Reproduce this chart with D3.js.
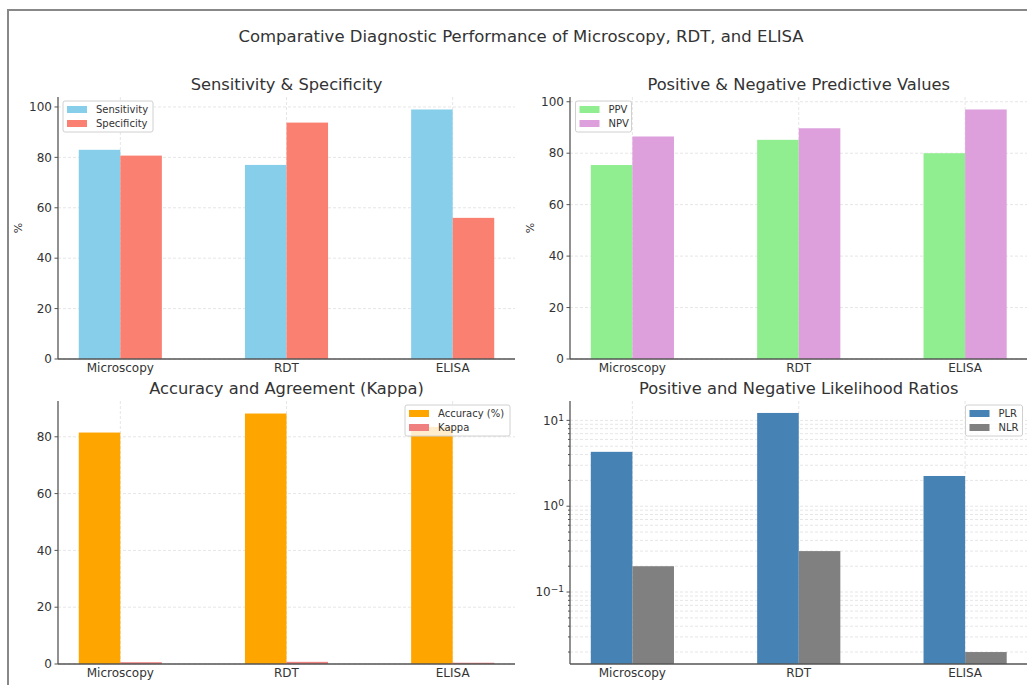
<!DOCTYPE html>
<html>
<head>
<meta charset="utf-8">
<script src="https://cdn.jsdelivr.net/npm/d3@7"></script>
<style>
  body { margin: 0; background: #fff; }
  svg { font-family: "DejaVu Sans", sans-serif; }
</style>
</head>
<body>
<script>
// Data
const tests = ["Microscopy", "RDT", "ELISA"];
const sensitivity = [83, 77, 99];
const specificity = [80.7, 93.8, 56];
const ppv = [75.4, 85.2, 80];
const npv = [86.5, 89.7, 97];
const accuracy = [81.5, 88.2, 83.5];
const kappa = [0.63, 0.76, 0.45];
const plr = [4.3, 12.2, 2.25];
const nlr = [0.2, 0.3, 0.02];
const linearTicks = [0, 20, 40, 60, 80, 100];

let width = 1027;
let height = 685;

let svg = d3
  .select("body")
  .append("svg")
  .attr("width", width)
  .attr("height", height);

// Frame lines on top and left
svg.append("line")
  .attr("x1", 7).attr("x2", width).attr("y1", 10).attr("y2", 10)
  .attr("stroke", "#888").attr("stroke-width", 2);
svg.append("line")
  .attr("x1", 8).attr("x2", 8).attr("y1", 10).attr("y2", height)
  .attr("stroke", "#888").attr("stroke-width", 2);

// Main title
svg.append("text")
  .attr("x", 521)
  .attr("y", 42)
  .attr("text-anchor", "middle")
  .style("font-size", "16.5px")
  .style("fill", "#333")
  .text("Comparative Diagnostic Performance of Microscopy, RDT, and ELISA");

function drawPanel(p) {
  let g = svg.append("g");

  // x scale over category index, bars are 0.25 wide
  let xScale = d3.scaleLinear().domain([-0.375, 2.375]).range([p.left, p.right]);
  let barW = xScale(0.25) - xScale(0);

  let yScale;
  if (p.log) {
    let all = p.series.flatMap((s) => s.values);
    let lo = Math.log10(d3.min(all));
    let hi = Math.log10(d3.max(all));
    let m = (hi - lo) * 0.05;
    yScale = d3.scaleLog()
      .domain([Math.pow(10, lo - m), Math.pow(10, hi + m)])
      .range([p.bottom, p.top]);
  } else {
    let maxV = d3.max(p.series.flatMap((s) => s.values));
    yScale = d3.scaleLinear().domain([0, maxV * 1.05]).range([p.bottom, p.top]);
  }

  // grid
  let grid = g.append("g").attr("stroke", "#e6e6e6").attr("stroke-dasharray", "3,2");
  tests.forEach((t, i) => {
    grid.append("line")
      .attr("x1", xScale(i)).attr("x2", xScale(i))
      .attr("y1", p.top).attr("y2", p.bottom);
  });
  let majors, minors = [];
  if (p.log) {
    let d = yScale.domain();
    majors = [];
    for (let e = -3; e <= 3; e++) {
      for (let k = 1; k <= 9; k++) {
        let v = k * Math.pow(10, e);
        if (v < d[0] || v > d[1]) continue;
        if (k === 1) majors.push(v);
        else minors.push(v);
      }
    }
  } else {
    majors = p.ticks.filter((v) => v <= yScale.domain()[1]);
  }
  majors.concat(minors).forEach((v) => {
    grid.append("line")
      .attr("x1", p.left).attr("x2", p.right)
      .attr("y1", yScale(v)).attr("y2", yScale(v));
  });

  // bars
  p.series.forEach((s, si) => {
    g.selectAll(null)
      .data(s.values)
      .enter()
      .append("rect")
      .attr("x", (d, i) => xScale(i + (si - 1) * 0.25))
      .attr("width", barW)
      .attr("y", (d) => yScale(d))
      .attr("height", (d) => p.bottom - yScale(d))
      .attr("fill", s.color);
  });

  // y ticks
  let ticks = g.append("g").style("font-size", "12px").style("fill", "#333");
  majors.forEach((v) => {
    ticks.append("line")
      .attr("x1", p.left - 3.5).attr("x2", p.left)
      .attr("y1", yScale(v)).attr("y2", yScale(v))
      .attr("stroke", "#555");
    let t = ticks.append("text")
      .attr("x", p.left - 6)
      .attr("y", yScale(v))
      .attr("dy", "0.35em")
      .attr("text-anchor", "end");
    if (p.log) {
      let ex = Math.round(Math.log10(v));
      t.append("tspan").text("10");
      t.append("tspan")
        .attr("dy", "-0.45em")
        .style("font-size", "9px")
        .text(ex < 0 ? "\u2212" + Math.abs(ex) : ex);
    } else {
      t.text(v);
    }
  });
  minors.forEach((v) => {
    ticks.append("line")
      .attr("x1", p.left - 2).attr("x2", p.left)
      .attr("y1", yScale(v)).attr("y2", yScale(v))
      .attr("stroke", "#555");
  });

  // x labels
  tests.forEach((t, i) => {
    ticks.append("text")
      .attr("x", xScale(i))
      .attr("y", p.bottom + 13)
      .attr("text-anchor", "middle")
      .text(t);
  });

  // spines
  g.append("line")
    .attr("x1", p.left).attr("x2", p.left).attr("y1", p.top).attr("y2", p.bottom)
    .attr("stroke", "#555").attr("stroke-width", 1.3);
  g.append("line")
    .attr("x1", p.left).attr("x2", p.right).attr("y1", p.bottom).attr("y2", p.bottom)
    .attr("stroke", "#555").attr("stroke-width", 1.3);

  // title
  g.append("text")
    .attr("x", (p.left + p.right) / 2)
    .attr("y", p.top - 7)
    .attr("text-anchor", "middle")
    .style("font-size", "16.3px")
    .style("fill", "#333")
    .text(p.title);

  if (p.ylabel) {
    g.append("text")
      .attr("transform", "translate(" + (p.left - 36) + "," + (p.top + p.bottom) / 2 + ") rotate(-90)")
      .attr("text-anchor", "middle")
      .style("font-size", "11px")
      .style("fill", "#333")
      .text(p.ylabel);
  }

  // legend
  let lg = g.append("g").attr("transform", "translate(" + p.legendX + "," + (p.top + 4) + ")");
  lg.append("rect")
    .attr("width", p.legendW).attr("height", 31).attr("rx", 2)
    .attr("fill", "white").attr("fill-opacity", 0.8)
    .attr("stroke", "#d0d0d0");
  p.series.forEach((s, si) => {
    lg.append("rect")
      .attr("x", 4).attr("y", 5 + si * 14)
      .attr("width", 20).attr("height", 7)
      .attr("fill", s.color);
    lg.append("text")
      .attr("x", 33).attr("y", 8.5 + si * 14)
      .attr("dy", "0.35em")
      .style("font-size", "10px")
      .style("fill", "#333")
      .text(s.name);
  });
}

drawPanel({
  title: "Sensitivity & Specificity",
  left: 58, right: 515, top: 97, bottom: 359,
  ticks: linearTicks, ylabel: "%",
  legendX: 63, legendW: 90,
  series: [
    { name: "Sensitivity", values: sensitivity, color: "#87ceeb" },
    { name: "Specificity", values: specificity, color: "#fa8072" }
  ]
});

drawPanel({
  title: "Positive & Negative Predictive Values",
  left: 570, right: 1027.5, top: 97, bottom: 359,
  ticks: linearTicks, ylabel: "%",
  legendX: 575.5, legendW: 56,
  series: [
    { name: "PPV", values: ppv, color: "#90ee90" },
    { name: "NPV", values: npv, color: "#dda0dd" }
  ]
});

drawPanel({
  title: "Accuracy and Agreement (Kappa)",
  left: 58, right: 515, top: 401, bottom: 664,
  ticks: linearTicks,
  legendX: 405, legendW: 105,
  series: [
    { name: "Accuracy (%)", values: accuracy, color: "#ffa500" },
    { name: "Kappa", values: kappa, color: "#f08080" }
  ]
});

drawPanel({
  title: "Positive and Negative Likelihood Ratios",
  left: 570, right: 1027.5, top: 401, bottom: 664,
  log: true,
  legendX: 965.5, legendW: 57,
  series: [
    { name: "PLR", values: plr, color: "#4682b4" },
    { name: "NLR", values: nlr, color: "#808080" }
  ]
});
</script>
</body>
</html>
